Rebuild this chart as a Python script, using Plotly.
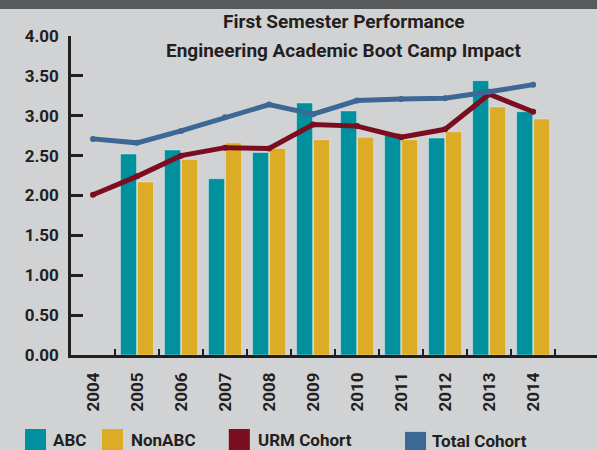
import plotly.graph_objects as go

years = ['2004', '2005', '2006', '2007', '2008', '2009', '2010', '2011', '2012', '2013', '2014']
abc = [None, 2.52, 2.57, 2.21, 2.54, 3.16, 3.06, 2.78, 2.72, 3.44, 3.05]
non_abc = [None, 2.17, 2.45, 2.66, 2.59, 2.70, 2.73, 2.70, 2.80, 3.11, 2.96]
urm_cohort = [2.01, 2.24, 2.50, 2.60, 2.59, 2.89, 2.87, 2.73, 2.83, 3.27, 3.05]
total_cohort = [2.71, 2.66, 2.81, 2.98, 3.14, 3.02, 3.19, 3.21, 3.22, 3.30, 3.39]
y_ticks = [0, 0.5, 1, 1.5, 2, 2.5, 3, 3.5, 4]

TEAL = '#00909e'
GOLD = '#dcac26'
MAROON = '#7a0d1f'
BLUE = '#3d6794'
INK = '#231f20'
BG = '#d1d2d4'
FONT = 'Roboto'

fig = go.Figure()
fig.add_trace(go.Bar(x=years, y=abc, name='ABC', marker_color=TEAL,
                     marker_line=dict(color='rgba(255,255,255,0.35)', width=1)))
fig.add_trace(go.Bar(x=years, y=non_abc, name='NonABC', marker_color=GOLD,
                     marker_line=dict(color='rgba(255,255,255,0.35)', width=1)))
fig.add_trace(go.Scatter(x=years, y=urm_cohort, name='URM Cohort', mode='lines+markers',
                         line=dict(color=MAROON, width=5), marker=dict(color=MAROON, size=6)))
fig.add_trace(go.Scatter(x=years, y=total_cohort, name='Total Cohort', mode='lines+markers',
                         line=dict(color=BLUE, width=5), marker=dict(color=BLUE, size=6)))

# top dark band
fig.add_shape(type='rect', xref='paper', yref='paper', x0=-0.2, x1=1.05,
              y0=1.0846, y1=1.2, fillcolor='#58595b', line_width=0, layer='below')

# title lines
fig.add_annotation(text='<b>First Semester Performance</b>', xref='paper', yref='paper',
                   x=0.519, y=1.044, yanchor='middle', showarrow=False,
                   font=dict(family=FONT, size=19, color=INK))
fig.add_annotation(text='<b>Engineering Academic Boot Camp Impact</b>', xref='paper', yref='paper',
                   x=0.519, y=0.956, yanchor='middle', showarrow=False,
                   font=dict(family=FONT, size=19, color=INK))

# legend drawn by hand so every key is a square
legend = [('ABC', TEAL, -0.0875, -0.038),
          ('NonABC', GOLD, 0.0589, 0.110),
          ('URM Cohort', MAROON, 0.300, 0.352),
          ('Total Cohort', BLUE, 0.635, 0.6825)]
for label, color, x0, tx in legend:
    top = -0.232 if label != 'Total Cohort' else -0.241
    fig.add_shape(type='rect', xref='paper', yref='paper', x0=x0, x1=x0 + 0.04,
                  y0=top - 0.075, y1=top, fillcolor=color, line_width=0)
    fig.add_annotation(text='<b>%s</b>' % label, xref='paper', yref='paper',
                       x=tx, y=-0.266 if label != 'Total Cohort' else -0.27,
                       xanchor='left', yanchor='middle', showarrow=False,
                       font=dict(family=FONT, size=17, color=INK))

fig.update_layout(
    width=597, height=450,
    margin=dict(l=71, r=0, t=36, b=95),
    paper_bgcolor=BG, plot_bgcolor=BG,
    barmode='group', bargap=0.227, bargroupgap=0.06,
    showlegend=False,
    font=dict(family=FONT, color=INK),
)
fig.update_xaxes(type='category', range=[-0.5, 11.45], tickangle=-90, automargin=False,
                 showline=True, linecolor=INK, linewidth=2.5,
                 ticks='inside', tickson='boundaries', ticklen=6, tickwidth=2, tickcolor=INK,
                 showgrid=False, ticklabelstandoff=8,
                 tickfont=dict(family=FONT, size=17, color=INK, weight='bold'))
fig.update_yaxes(range=[0, 4], tickvals=y_ticks, tickformat='.2f', automargin=False,
                 showline=True, linecolor=INK, linewidth=2.5,
                 ticks='inside', ticklen=12, tickwidth=2.5, tickcolor=INK,
                 showgrid=False, zeroline=False, ticklabelstandoff=6,
                 tickfont=dict(family=FONT, size=17, color=INK, weight='bold'))

# drop the browser's default page margin so the chart sits at the window corner
fig.write_html('out.html', config={'displayModeBar': False},
               post_script="document.body.style.margin = '0';")
